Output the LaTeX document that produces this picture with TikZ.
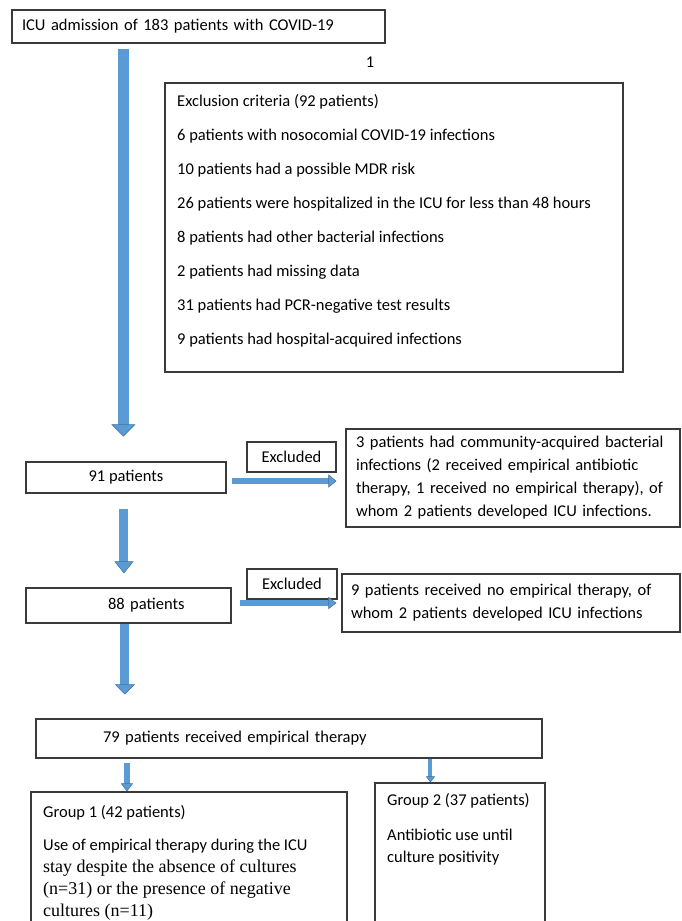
\documentclass[tikz,border=0pt]{standalone}
\usepackage{fontspec}
\setmainfont{Carlito}
\newfontfamily\timesf{Liberation Serif}
\usetikzlibrary{arrows.meta,calc}
\definecolor{arrowblue}{HTML}{5B9BD5}
\definecolor{arrowedge}{HTML}{41719C}
\definecolor{boxline}{HTML}{3A3A3A}
\begin{document}
\begin{tikzpicture}[x=1pt,y=-1pt,
  box/.style={draw=boxline, line width=1.1pt, inner sep=0pt},
  cal/.style={font=\fontsize{16.5}{23}\selectfont},
  blk/.style n args={3}{draw=arrowblue, line width=#1,
    -{Triangle[width=#2,length=#3,line width=0.5pt,color=arrowedge,fill=arrowblue]}},
]
\useasboundingbox (0,0) rectangle (681,921);
\clip (0,0) rectangle (681,921);
\fill[white] (0,0) rectangle (681,921);

% boxes
\node[box, cal, minimum width=373pt, minimum height=33pt, text width=353pt, inner xsep=10pt, align=left]
  (top) at (198.5,26.5) {ICU admission of 183 patients with COVID-19};
\node[cal, inner sep=0pt] (one) at (370,62) {1};

\node[box, minimum width=458pt, minimum height=289pt] (excl) at (394,227.5) {};
\node[inner sep=0pt, anchor=north west, align=left, font=\fontsize{16.5}{34}\selectfont]
  (excltxt) at (177,94) {Exclusion criteria (92 patients)\\
  6 patients with nosocomial COVID-19 infections\\
  10 patients had a possible MDR risk\\
  26 patients were hospitalized in the ICU for less than 48 hours\\
  8 patients had other bacterial infections\\
  2 patients had missing data\\
  31 patients had PCR-negative test results\\
  9 patients had hospital-acquired infections};

\node[box, cal, minimum width=200pt, minimum height=31pt] (n91) at (126,477.5) {91 patients};
\node[box, cal, minimum width=89pt, minimum height=30pt] (ex1) at (291.5,457) {Excluded};
\node[box, cal, minimum width=334pt, minimum height=98pt, inner xsep=10pt, text width=314pt, align=left]
  (r1) at (513,478) {3 patients had community-acquired bacterial\\
  infections (2 received empirical antibiotic\\
  therapy, 1 received no empirical therapy), of\\
  whom 2 patients developed ICU infections.};

\node[box, cal, minimum width=205pt, minimum height=35pt, text width=205pt, align=left]
  (n88) at (128.5,605.5) {\hspace*{82pt}88 patients};
\node[box, cal, minimum width=90pt, minimum height=30pt] (ex2) at (292,584) {Excluded};
\node[box, cal, minimum width=338pt, minimum height=58pt, inner xsep=9pt, text width=320pt, align=left]
  (r2) at (511,603) {9 patients received no empirical therapy, of\\
  whom 2 patients developed ICU infections};

\node[box, cal, minimum width=506pt, minimum height=39pt, text width=506pt, align=left]
  (n79) at (289,738.5) {\hspace*{67pt}79 patients received empirical therapy};

\node[box, minimum width=316pt, minimum height=148pt] (g1) at (189,866) {};
\node[inner sep=0pt, anchor=north west, align=left, font=\fontsize{16.5}{22}\selectfont]
  (g1txt) at (43,805) {Group 1 (42 patients)\\[11pt]
  Use of empirical therapy during the ICU\\
  {\timesf\fontsize{18}{22}\selectfont stay despite the absence of cultures}\\
  {\timesf\fontsize{18}{22}\selectfont (n=31) or the presence of negative}\\
  {\timesf\fontsize{18}{22}\selectfont cultures (n=11)}};

\node[box, minimum width=170pt, minimum height=157pt] (g2) at (460,861.5) {};
\node[inner sep=0pt, anchor=north west, align=left, font=\fontsize{16.5}{22}\selectfont]
  (g2txt) at (387,793) {Group 2 (37 patients)\\[13pt]
  Antibiotic use until\\
  culture positivity};

% block arrows
\draw[blk={11pt}{24pt}{12pt}] ($(top.south west)+(112,5)$) -- ($(n91.north west)+(98,-25)$);
\draw[blk={9pt}{19pt}{12pt}] ($(n91.south west)+(98.5,15)$) -- ($(n88.north west)+(98.5,-14)$);
\draw[blk={9pt}{20pt}{10pt}] ($(n88.south west)+(99.5,0)$) -- ($(n79.north west)+(89.5,-24)$);
\draw[blk={6pt}{12pt}{8pt}] ($(n79.south west)+(91.5,4)$) -- ($(g1.north west)+(96.5,0)$);
\draw[blk={4pt}{9pt}{6pt}] ($(n79.south west)+(395,0)$) -- ($(g2.north west)+(56,0)$);
\draw[blk={6pt}{13pt}{8pt}] ($(n91.east)+(5,3.5)$) -- ($(r1.west)+(-9,3)$);
\draw[blk={6pt}{12pt}{8pt}] ($(n88.east)+(8,-2.5)$) -- ($(r2.west)+(-5,0)$);
\end{tikzpicture}
\end{document}
